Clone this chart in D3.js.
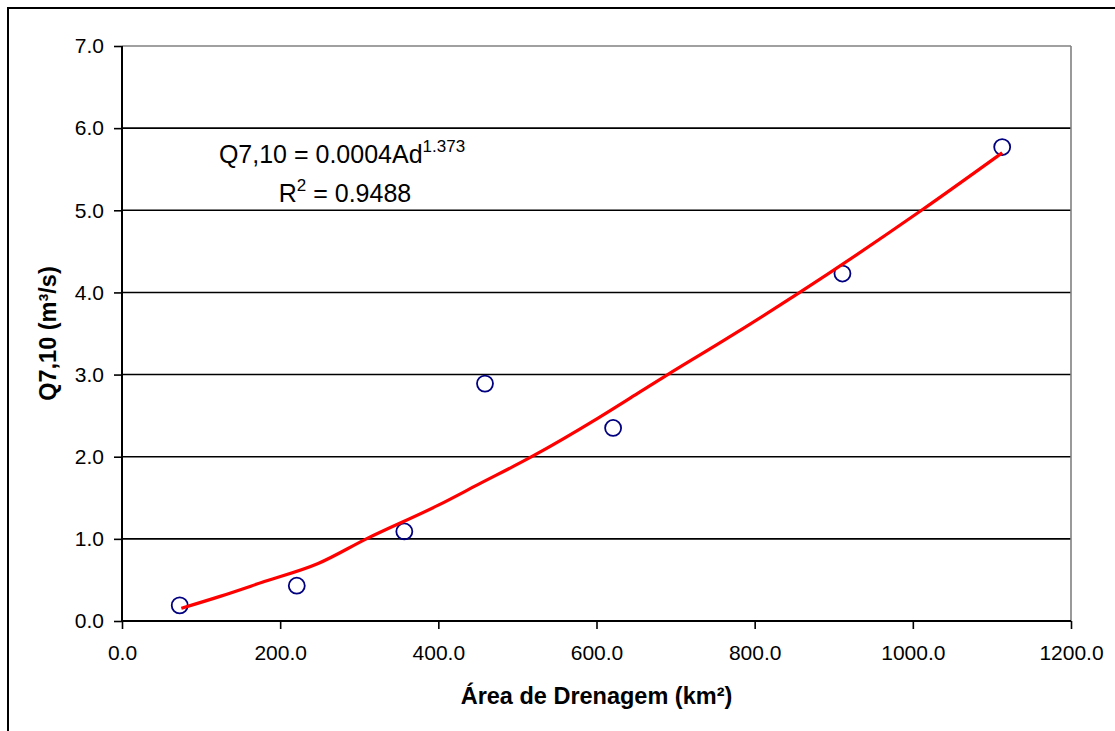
<!DOCTYPE html>
<html><head><meta charset="utf-8">
<script src="https://cdn.jsdelivr.net/npm/d3@7"></script>
<style>body{margin:0;background:#fff;} svg{display:block;} text{font-family:"Liberation Sans",Arial,sans-serif;}</style>
</head><body>
<svg id="c" width="1115" height="731"></svg>
<script>
// Observed data
const areas = [73, 221, 357, 459, 621, 911, 1113];
const q710  = [0.19, 0.43, 1.09, 2.89, 2.35, 4.23, 5.77];
// Power trendline
const trendX = [75, 124, 180, 248, 309, 400, 450, 518, 602, 652, 690, 760, 857, 1011, 1113];
const trendY = [0.155, 0.30, 0.48, 0.70, 1.0, 1.41, 1.66, 2.0, 2.47, 2.77, 3.0, 3.41, 4.0, 5.0, 5.70];
const xTicks = [0, 200, 400, 600, 800, 1000, 1200];
const yTicks = [0, 1, 2, 3, 4, 5, 6, 7];

const svg = d3.select("#c");
const L = 122, R = 1071, T = 46, B = 621;
const x = d3.scaleLinear().domain([0, 1200]).range([L, R]);
const y = d3.scaleLinear().domain([0, 7]).range([B, T]);

// outer border
svg.append("rect").attr("x", 8).attr("y", 8).attr("width", 1300).attr("height", 900)
  .attr("fill", "none").attr("stroke", "#000").attr("stroke-width", 2);

// gridlines
svg.append("g").selectAll("line").data(yTicks.filter(d => d > 0)).join("line")
  .attr("x1", L).attr("x2", R).attr("y1", d => y(d)).attr("y2", d => y(d))
  .attr("stroke", d => d === 7 ? "#808080" : "#000").attr("stroke-width", 1.6);
// right border of plot
svg.append("line").attr("x1", R).attr("x2", R).attr("y1", T).attr("y2", B)
  .attr("stroke", "#808080").attr("stroke-width", 1.6);

// axes
const xAxis = d3.axisBottom(x).tickValues(xTicks).tickFormat(d3.format(".1f")).tickSize(8).tickPadding(16);
const gx = svg.append("g").attr("transform", `translate(0,${B})`).call(xAxis);
const yAxis = d3.axisLeft(y).tickValues(yTicks).tickFormat(d3.format(".1f")).tickSize(8).tickPadding(10);
const gy = svg.append("g").attr("transform", `translate(${L},0)`).call(yAxis);
[gx, gy].forEach(g => {
  g.select(".domain").attr("stroke", "#000").attr("stroke-width", 2);
  g.selectAll(".tick line").attr("stroke", "#000").attr("stroke-width", 1.6);
  g.selectAll(".tick text").attr("font-size", 21).attr("fill", "#000")
    .style("font-family", "'Liberation Sans', Arial, sans-serif");
});
gx.select(".domain").attr("d", `M${L},0H${R}`);
gy.select(".domain").attr("d", `M0,${B}V${T}`);

// markers
svg.append("g").selectAll("circle").data(areas.map((a, i) => [a, q710[i]])).join("circle")
  .attr("cx", d => x(d[0])).attr("cy", d => y(d[1])).attr("r", 8)
  .attr("fill", "none").attr("stroke", "#000080").attr("stroke-width", 1.8);

// trendline
const line = d3.line().x(d => x(d[0])).y(d => y(d[1])).curve(d3.curveMonotoneX);
svg.append("path").datum(trendX.map((a, i) => [a, trendY[i]]))
  .attr("d", line).attr("fill", "none").attr("stroke", "#ff0000").attr("stroke-width", 3.2)
  .attr("stroke-linejoin", "round");

// equation
const eq = svg.append("text").attr("x", 342).attr("y", 163).attr("text-anchor", "middle").attr("font-size", 25);
eq.append("tspan").text("Q7,10 = 0.0004Ad");
eq.append("tspan").attr("dy", -11).attr("font-size", 17).text("1.373");
const r2 = svg.append("text").attr("x", 345).attr("y", 202).attr("text-anchor", "middle").attr("font-size", 25);
r2.append("tspan").text("R");
r2.append("tspan").attr("dy", -11).attr("font-size", 17).text("2");
r2.append("tspan").attr("dy", 11).text(" = 0.9488");

// axis titles
svg.append("text").attr("x", (L + R) / 2).attr("y", 704).attr("text-anchor", "middle")
  .attr("font-size", 23.5).attr("font-weight", "bold").text("Área de Drenagem (km²)");
svg.append("text").attr("transform", `translate(56,${(T + B) / 2}) rotate(-90)`).attr("text-anchor", "middle")
  .attr("font-size", 23.5).attr("font-weight", "bold").text("Q7,10 (m³/s)");
</script>
</body></html>
